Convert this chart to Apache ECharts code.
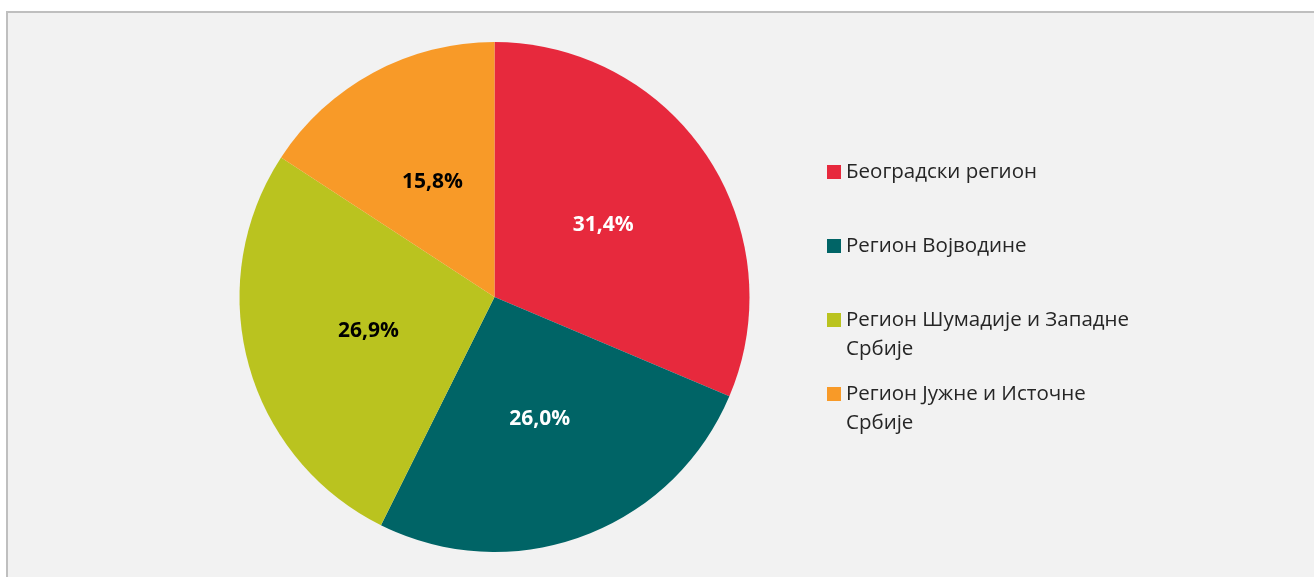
<!DOCTYPE html>
<html>
<head>
<meta charset="utf-8">
<script src="https://cdn.jsdelivr.net/npm/echarts@6/dist/echarts.min.js"></script>
<style>
html,body{margin:0;padding:0;background:#ffffff;}
#chart{width:1314px;height:577px;}
</style>
</head>
<body>
<div id="chart"></div>
<script>
const categories = ['Београдски регион', 'Регион Војводине', 'Регион Шумадије и Западне Србије', 'Регион Јужне и Источне Србије'];
const legendLabels = ['Београдски регион', 'Регион Војводине', 'Регион Шумадије и Западне\nСрбије', 'Регион Јужне и Источне\nСрбије'];
const values = [31.4, 26.0, 26.9, 15.8];
const colors = ['#E7293D', '#006466', '#BAC31F', '#F89A28'];
const labelColors = ['#ffffff', '#ffffff', '#000000', '#000000'];

const chart = echarts.init(document.getElementById('chart'));
const FONT = '"Open Sans", sans-serif';
const legendCenters = [172, 246, 320, 394];

const legends = categories.map((name, i) => {
  const multi = legendLabels[i].indexOf('\n') >= 0;
  const lines = multi ? 3 : 1;
  return {
    data: [name],
    orient: 'vertical',
    left: 827,
    top: legendCenters[i] - lines * 29.5 / 2,
    padding: 0,
    itemWidth: 14,
    itemHeight: 14,
    icon: 'rect',
    selectedMode: false,
    formatter: () => multi ? '\n' + legendLabels[i] : legendLabels[i],
    textStyle: { fontFamily: FONT, fontSize: 20.5, color: '#262626', lineHeight: 29.5 }
  };
});

chart.setOption({
  animation: false,
  backgroundColor: '#ffffff',
  graphic: [{
    type: 'rect',
    shape: { x: 7, y: 12, width: 1400, height: 700 },
    style: { fill: '#f2f2f2', stroke: '#bfbfbf', lineWidth: 2 },
    z: -10
  }],
  legend: legends,
  series: [{
    type: 'pie',
    center: [494.5, 297],
    radius: 255,
    startAngle: 90,
    clockwise: true,
    avoidLabelOverlap: false,
    label: {
      show: true,
      position: 'inside',
      fontFamily: FONT,
      fontSize: 21,
      fontWeight: 'bold',
      formatter: p => p.value.toFixed(1).replace('.', ',') + '%'
    },
    labelLine: { show: false },
    itemStyle: { borderWidth: 0 },
    emphasis: { disabled: true },
    data: categories.map((name, i) => ({
      name: name,
      value: values[i],
      itemStyle: { color: colors[i] },
      label: { color: labelColors[i] }
    }))
  }]
});
</script>
</body>
</html>
